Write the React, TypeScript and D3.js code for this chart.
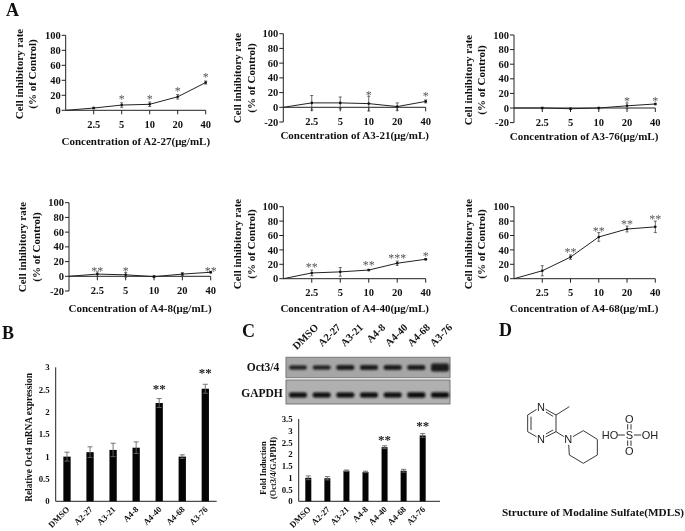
import React from "react";
import * as d3 from "d3";

const doses = ["0", "2.5", "5", "10", "20", "40"];
const a227 = [0, 3, 7, 8, 18, 37];
const a227Err = [0, 1, 3, 3, 3, 2];
const a227Stars = ["", "", "*", "*", "*", "*"];
const a227StarY = [0, 0, 18, 18, 29, 47];
const a321 = [0, 6, 6, 5, 1, 8];
const a321Err = [0, 10, 8, 10, 5, 2];
const a321Stars = ["", "", "", "*", "", "*"];
const a321StarY = [0, 0, 0, 20, 0, 18];
const a376 = [0, 0, -1, 0, 3, 5.5];
const a376Err = [0, 1, 1, 1, 4, 1];
const a376Stars = ["", "", "", "", "*", "*"];
const a376StarY = [0, 0, 0, 0, 13, 13];
const a48 = [0, 3, 2, -0.5, 3, 5.5];
const a48Err = [0, 3, 3, 1, 2, 1];
const a48Stars = ["", "**", "*", "", "", "**"];
const a48StarY = [0, 9.5, 9.5, 0, 0, 10];
const a440 = [0, 8, 9.5, 12, 21.5, 27];
const a440Err = [0, 4, 6, 1, 3, 1];
const a440Stars = ["", "**", "", "**", "***", "*"];
const a440StarY = [0, 19, 0, 22, 32, 35];
const a468 = [0, 11, 30, 58, 69, 72];
const a468Err = [0, 7, 3, 6, 4, 8];
const a468Stars = ["", "", "**", "**", "**", "**"];
const a468StarY = [0, 0, 40, 69, 79, 86];

const groups = ["DMSO", "A2-27", "A3-21", "A4-8", "A4-40", "A4-68", "A3-76"];
const mrna = [1, 1.1, 1.15, 1.2, 2.2, 1, 2.52];
const mrnaErr = [0.1, 0.12, 0.15, 0.13, 0.1, 0.04, 0.1];
const mrnaStars = ["", "", "", "", "**", "", "**"];
const mrnaStarY = [0, 0, 0, 0, 2.57, 0, 2.92];
const fold = [1, 0.98, 1.3, 1.25, 2.3, 1.3, 2.8];
const foldErr = [0.08, 0.07, 0.03, 0.03, 0.06, 0.06, 0.08];
const foldStars = ["", "", "", "", "**", "", "**"];
const foldStarY = [0, 0, 0, 0, 2.72, 0, 3.32];
const mrnaTicks = ["0", "0.5", "1", "1.5", "2", "2.5", "3"];
const foldTicks = ["0", "0.5", "1", "1.5", "2", "2.5", "3", "3.5"];
const octBand = [4, 4, 5, 5, 5, 5, 8];
const gapdhBand = [5, 5, 5, 5, 5, 5.5, 5.5];

const ringAtoms = [[243, 260], [288, 285], [288, 335], [243, 358], [203, 335], [203, 285]];
const pipAtoms = [[325, 358], [370, 332], [412, 358], [412, 405], [370, 430], [328, 405]];
const atomLabels: [string, number, number][] = [["N", 243, 260], ["N", 243, 358], ["N", 325, 358], ["HO", 450, 345], ["S", 508, 345], ["OH", 570, 345], ["O", 508, 296], ["O", 508, 394]];

const serif = "'Liberation Serif', serif";
const T = (p: any) => <text fontFamily={serif} fontWeight="bold" fill="#111" {...p} />;

function LinePanel({ name, vals, errs, stars, starY, ax, x40, y100, y0, min, tx, ty, l1, l2, yc }: any) {
  const y = d3.scaleLinear().domain([0, 100]).range([y0, y100]);
  const x = d3.scalePoint().domain(doses).range([ax, x40]);
  const line = d3.line<number>().x((_, i) => x(doses[i])!).y((d) => y(d));
  const ticks = d3.range(min, 101, 20);
  return (
    <g>
      <line x1={ax} x2={ax} y1={y(min)} y2={y(100)} stroke="#222" />
      {ticks.map((t) => (
        <g key={t}>
          <line x1={ax - 4} x2={ax} y1={y(t)} y2={y(t)} stroke="#222" />
          <T x={ax - 5} y={y(t) + 3.6} fontSize={10.5} textAnchor="end">{t}</T>
        </g>
      ))}
      <line x1={ax} x2={x40} y1={y(0)} y2={y(0)} stroke="#222" />
      {doses.slice(1).map((d) => (
        <g key={d}>
          <line x1={x(d)} x2={x(d)} y1={y(0)} y2={y(0) + 4} stroke="#222" />
          <T x={x(d)} y={y(0) + 17.5} fontSize={10.5} textAnchor="middle">{d}</T>
        </g>
      ))}
      <path d={line(vals) || ""} fill="none" stroke="#222" strokeWidth={1} />
      {vals.map((v: number, i: number) => i > 0 && (
        <g key={i} stroke="#444" strokeWidth={0.8}>
          <line x1={x(doses[i])} x2={x(doses[i])} y1={y(v + errs[i])} y2={y(v - errs[i])} />
          <line x1={x(doses[i])! - 1.5} x2={x(doses[i])! + 1.5} y1={y(v + errs[i])} y2={y(v + errs[i])} />
          <line x1={x(doses[i])! - 1.5} x2={x(doses[i])! + 1.5} y1={y(v - errs[i])} y2={y(v - errs[i])} />
          <circle cx={x(doses[i])} cy={y(v)} r={1.3} fill="#111" stroke="none" />
        </g>
      ))}
      {stars.map((s: string, i: number) => s && (
        <text key={i} x={x(doses[i])} y={y(starY[i]) + 6} fontFamily={serif} fontSize={12} fill="#555" textAnchor="middle">{s}</text>
      ))}
      <T x={tx} y={ty} fontSize={11} textAnchor="middle">{`Concentration of ${name}(μg/mL)`}</T>
      <T transform={`translate(${l1},${yc}) rotate(-90)`} fontSize={11} textAnchor="middle">Cell inhibitory rate</T>
      <T transform={`translate(${l2},${yc}) rotate(-90)`} fontSize={11} textAnchor="middle">(% of Control)</T>
    </g>
  );
}

function BarPanel({ vals, errs, stars, starY, labels, ax, right, first, last, top, base, max, bw, tickSize, lblY }: any) {
  const y = d3.scaleLinear().domain([0, max]).range([base, top]);
  const x = d3.scalePoint().domain(groups).range([first, last]);
  return (
    <g>
      <line x1={ax} x2={ax} y1={base} y2={top} stroke="#222" />
      <line x1={ax} x2={right} y1={base} y2={base} stroke="#222" />
      {labels.map((t: string) => (
        <T key={t} x={ax - 6} y={y(+t) + 3} fontSize={tickSize} textAnchor="end">{t}</T>
      ))}
      {vals.map((v: number, i: number) => {
        const c = x(groups[i])!;
        return (
          <g key={i}>
            <rect x={c - bw / 2} width={bw} y={y(v)} height={base - y(v)} fill="#050505" />
            <g stroke="#666" strokeWidth={0.9}>
              <line x1={c} x2={c} y1={y(v + errs[i])} y2={y(v - errs[i])} />
              <line x1={c - 2.5} x2={c + 2.5} y1={y(v + errs[i])} y2={y(v + errs[i])} />
              <line x1={c - 2.5} x2={c + 2.5} y1={y(v - errs[i])} y2={y(v - errs[i])} />
            </g>
            {stars[i] && <text x={c} y={y(starY[i]) + 6.5} fontFamily={serif} fontWeight="bold" fontSize={13} fill="#222" textAnchor="middle">{stars[i]}</text>}
            <T transform={`translate(${c + 3},${lblY}) rotate(-45)`} fontSize={8.6} textAnchor="end">{groups[i]}</T>
          </g>
        );
      })}
    </g>
  );
}

export default function App() {
  const lanes = d3.scalePoint().domain(groups).range([298, 440]);
  const laneLabels = d3.scalePoint().domain(groups).range([319, 453]);
  const mx = (v: number) => 460 + v / 3;
  const my = (v: number) => 320 + v / 3;
  const closed = (pts: number[][]) => d3.line().x((d) => mx(d[0])).y((d) => my(d[1])).curve(d3.curveLinearClosed)(pts as any) || "";
  return (
    <svg width={685} height={531} viewBox="0 0 685 531" style={{ position: "absolute", left: 0, top: 0, display: "block", background: "#fff", filter: "blur(0.35px)" }}>
      <defs>
        <filter id="band" x="-30%" y="-80%" width="160%" height="260%"><feGaussianBlur stdDeviation="1" /></filter>
      </defs>
      <T x={6} y={16} fontSize={18}>A</T>
      <T x={2} y={339} fontSize={18}>B</T>
      <T x={242} y={337} fontSize={18}>C</T>
      <T x={499} y={336} fontSize={18}>D</T>

      <LinePanel name="A2-27" vals={a227} errs={a227Err} stars={a227Stars} starY={a227StarY} ax={65.7} x40={205.7} y100={35.3} y0={110.3} min={0} tx={135.8} ty={145} l1={23} l2={36} yc={74} />
      <LinePanel name="A3-21" vals={a321} errs={a321Err} stars={a321Stars} starY={a321StarY} ax={283.3} x40={425.7} y100={33.7} y0={107.3} min={-20} tx={354.7} ty={139} l1={241} l2={255} yc={78} />
      <LinePanel name="A3-76" vals={a376} errs={a376Err} stars={a376Stars} starY={a376StarY} ax={514} x40={655.3} y100={35} y0={108} min={-20} tx={584} ty={139.5} l1={472} l2={485} yc={80} />
      <LinePanel name="A4-8" vals={a48} errs={a48Err} stars={a48Stars} starY={a48StarY} ax={69} x40={210.7} y100={202.7} y0={276.3} min={-20} tx={140} ty={311.5} l1={26} l2={40} yc={247} />
      <LinePanel name="A4-40" vals={a440} errs={a440Err} stars={a440Stars} starY={a440StarY} ax={283.3} x40={425.7} y100={206.7} y0={278.7} min={0} tx={354.7} ty={311.5} l1={241} l2={255} yc={244} />
      <LinePanel name="A4-68" vals={a468} errs={a468Err} stars={a468Stars} starY={a468StarY} ax={514} x40={655.3} y100={206.7} y0={278.7} min={0} tx={584} ty={311.5} l1={472} l2={485} yc={244} />

      <BarPanel vals={mrna} errs={mrnaErr} stars={mrnaStars} starY={mrnaStarY} labels={mrnaTicks} ax={55.7} right={216.7} first={67} last={205.3} top={367.3} base={501.3} max={3} bw={7.3} tickSize={8.8} lblY={510} />
      <T transform="translate(32,437.5) rotate(-90)" fontSize={9.4} textAnchor="middle">Relative Oct4 mRNA expression</T>

      <BarPanel vals={fold} errs={foldErr} stars={foldStars} starY={foldStarY} labels={foldTicks} ax={298.7} right={440} first={308.3} last={422.7} top={419} base={501.3} max={3.5} bw={6} tickSize={8.8} lblY={510} />
      <T transform="translate(265.5,468) rotate(-90)" fontSize={8.4} textAnchor="middle">Fold Induction</T>
      <T transform="translate(276,468) rotate(-90)" fontSize={8.4} textAnchor="middle">(Oct3/4/GAPDH)</T>

      {groups.map((g) => (
        <T key={g} transform={`translate(${laneLabels(g)},328) rotate(-45)`} fontSize={10.5} textAnchor="end">{g}</T>
      ))}
      <T x={263} y={371} fontSize={11.5} textAnchor="middle">Oct3/4</T>
      <T x={262} y={397} fontSize={11.5} textAnchor="middle">GAPDH</T>
      <rect x={286} y={357.3} width={164} height={20.4} fill="#a6a6a6" stroke="#777" />
      <rect x={286} y={380} width={164} height={24} fill="#b0b0b0" stroke="#777" />
      <g filter="url(#band)">
        {groups.map((g, i) => (
          <g key={g}>
            <rect x={lanes(g)! - 9} width={18} y={367.5 - octBand[i] / 2} height={octBand[i]} rx={2} fill="#1c1c1c" />
            <rect x={Math.max(lanes(g)! - 9, 289)} width={18} y={395 - gapdhBand[i] / 2} height={gapdhBand[i]} rx={2} fill="#0c0c0c" />
          </g>
        ))}
      </g>

      <g fill="none" stroke="#222" strokeWidth={0.9}>
        <path d={closed(ringAtoms)} />
        <path d={closed(pipAtoms)} />
        <line x1={mx(288)} y1={my(285)} x2={mx(328)} y2={my(260)} />
        <line x1={mx(288)} y1={my(335)} x2={mx(325)} y2={my(358)} />
        <line x1={mx(213)} y1={my(290)} x2={mx(213)} y2={my(330)} />
        <line x1={mx(258)} y1={my(276)} x2={mx(279)} y2={my(289)} />
        <line x1={mx(258)} y1={my(342)} x2={mx(279)} y2={my(330)} />
        <line x1={mx(472)} y1={my(345)} x2={mx(495)} y2={my(345)} />
        <line x1={mx(521)} y1={my(345)} x2={mx(544)} y2={my(345)} />
        <line x1={mx(503)} y1={my(310)} x2={mx(503)} y2={my(331)} />
        <line x1={mx(513)} y1={my(310)} x2={mx(513)} y2={my(331)} />
        <line x1={mx(503)} y1={my(359)} x2={mx(503)} y2={my(380)} />
        <line x1={mx(513)} y1={my(359)} x2={mx(513)} y2={my(380)} />
      </g>
      <g fontFamily="'Liberation Sans', sans-serif" fontSize={11} fill="#222" textAnchor="middle">
        {atomLabels.map(([t, a, b], i) => {
          const w = t.length > 1 ? 16 : 9;
          return (
            <g key={i}>
              <rect x={mx(a) - w / 2} y={my(b) - 5.5} width={w} height={11} fill="#fff" />
              <text x={mx(a)} y={my(b) + 4}>{t}</text>
            </g>
          );
        })}
      </g>
      <T x={593} y={516} fontSize={11.2} textAnchor="middle">Structure of Modaline Sulfate(MDLS)</T>
    </svg>
  );
}
